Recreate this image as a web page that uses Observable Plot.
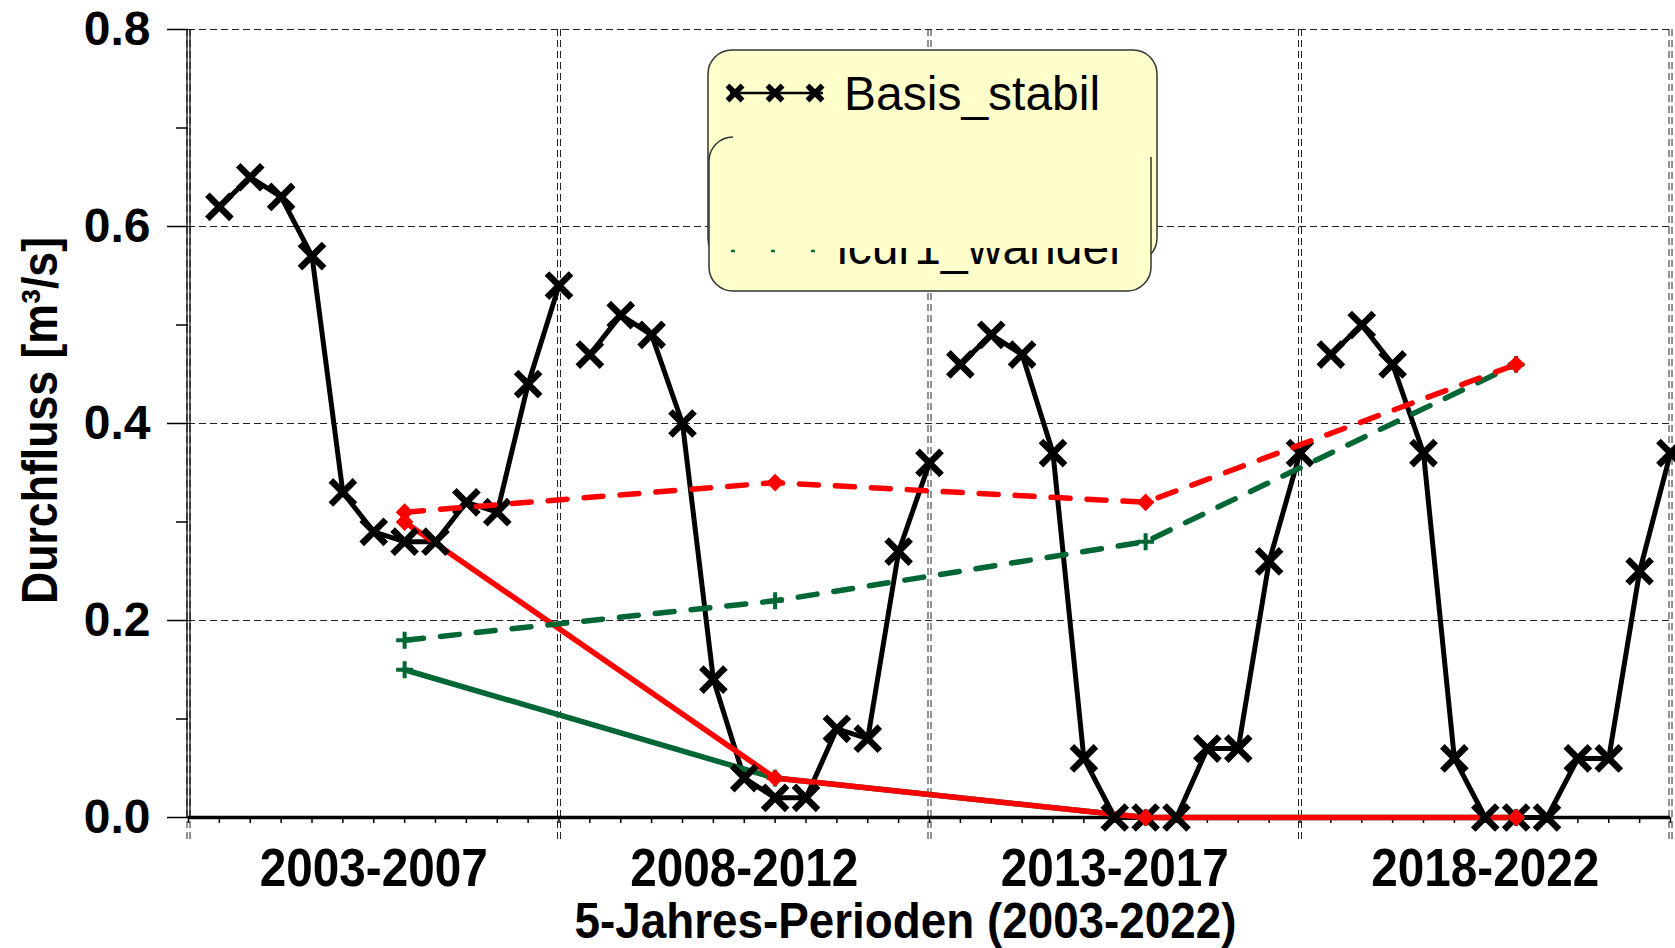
<!DOCTYPE html>
<html><head><meta charset="utf-8">
<script src="https://cdn.jsdelivr.net/npm/d3@7"></script>
<script src="https://cdn.jsdelivr.net/npm/@observablehq/plot@0.6"></script>
<style>
html,body{margin:0;padding:0;background:#fff;overflow:hidden}
#wrap{position:relative;width:1675px;height:948px}
#legend{position:absolute;left:0;top:0}
</style></head><body>
<div id="wrap"><div id="chart"></div><svg id="legend" width="1675" height="948"></svg></div>
<script>
// ---------- data ----------
const periods = ["2003-2007", "2008-2012", "2013-2017", "2018-2022"];
const monthsPerPeriod = 12;
// Basis_stabil: monthly mean discharge within each 5-year period
const basisP1 = [0.62, 0.65, 0.63, 0.57, 0.33, 0.29, 0.28, 0.28, 0.32, 0.31, 0.44, 0.54];
const basisP2 = [0.47, 0.51, 0.49, 0.40, 0.14, 0.04, 0.02, 0.02, 0.09, 0.08, 0.27, 0.36];
const basisP3 = [0.46, 0.49, 0.47, 0.37, 0.06, 0.00, 0.00, 0.00, 0.07, 0.07, 0.26, 0.37];
const basisP4 = [0.47, 0.50, 0.46, 0.37, 0.06, 0.00, 0.00, 0.00, 0.06, 0.06, 0.25, 0.37];
// scenario series, one value per period (plotted at month 7 of each period)
const scenarioMonth = 7;
const redDashed   = [0.31, 0.34, 0.32, 0.46];
const redSolid    = [0.30, 0.04, 0.00, 0.00];
const greenDashed = [0.18, 0.22, 0.28, 0.46];
const greenSolid  = [0.15, 0.04, 0.00, 0.00];
const yTicks = [0.0, 0.2, 0.4, 0.6, 0.8];
const yMinorTicks = [0.1, 0.3, 0.5, 0.7];
const yTitle = "Durchfluss [m³/s]";
const xTitle = "5-Jahres-Perioden (2003-2022)";
const legendLabels = ["Basis_stabil", "lcur1_wandel"];

// ---------- build tables ----------
const basis = [basisP1, basisP2, basisP3, basisP4].flatMap((vals, p) =>
  vals.map((v, m) => ({x: p * monthsPerPeriod + m + 1, y: v, period: p})));
const scen = vals => vals.map((v, i) => ({x: i * monthsPerPeriod + scenarioMonth, y: v}));
const periodTicks = periods.map((_, i) => i * monthsPerPeriod + monthsPerPeriod / 2);
const boundaries = d3.range(0, periods.length * monthsPerPeriod + 1, monthsPerPeriod);
const minorX = d3.range(0, periods.length * monthsPerPeriod + 1);

const RED = "#ff0000", GREEN = "#006633";
const gridStyle = {stroke: "#222", strokeWidth: 1.2, strokeDasharray: "7,4"};

const chart = Plot.plot({
  width: 1675, height: 948,
  marginLeft: 188, marginRight: 5, marginTop: 29, marginBottom: 131,
  x: {domain: [0, periods.length * monthsPerPeriod]},
  y: {domain: [0, 0.8]},
  style: {fontFamily: "'Liberation Sans', Arial, sans-serif", background: "#fff", color: "#000"},
  marks: [
    Plot.ruleY(yTicks.filter(d => d > 0), gridStyle),
    Plot.ruleX(boundaries, {...gridStyle, strokeWidth: 1, dx: -1.5, insetBottom: -26}),
    Plot.ruleX(boundaries, {...gridStyle, strokeWidth: 1, dx: 1.5, insetBottom: -26}),
    Plot.axisY(yTicks, {tickSize: 21, tickPadding: 17, tickFormat: d3.format(".1f"),
      fontSize: 48, fontWeight: "bold", label: null, strokeWidth: 1.5}),
    Plot.axisY(yMinorTicks, {tickSize: 12, tickFormat: () => "", label: null, strokeWidth: 1.5}),
    Plot.axisX(minorX, {tickSize: 6, tickFormat: () => "", label: null, strokeWidth: 1.5}),
    Plot.ruleX([0], {stroke: "#000", strokeWidth: 1.2, dx: -1.5}),
    Plot.ruleX([0], {stroke: "#000", strokeWidth: 1.2, dx: 1.5}),
    Plot.ruleY([0], {stroke: "#000", strokeWidth: 3.5}),
    Plot.text(periods, {x: (d, i) => periodTicks[i], frameAnchor: "bottom", dy: 68, lineAnchor: "bottom",
      fontSize: 54, fontWeight: "bold"}),
    Plot.text([xTitle], {frameAnchor: "bottom", dx: -24, dy: 120, lineAnchor: "bottom",
      fontSize: 50, fontWeight: "bold"}),
    Plot.text([yTitle], {frameAnchor: "left", textAnchor: "middle", rotate: -90, dx: -132, dy: -3, lineAnchor: "bottom",
      fontSize: 50, fontWeight: "bold"}),
    // series
    Plot.line(basis, {x: "x", y: "y", z: "period", stroke: "#000", strokeWidth: 5, strokeLinejoin: "round"}),
    Plot.line(scen(greenSolid), {x: "x", y: "y", stroke: GREEN, strokeWidth: 5.5}),
    Plot.line(scen(redSolid), {x: "x", y: "y", stroke: RED, strokeWidth: 5.5}),
    Plot.dot(basis, {x: "x", y: "y", symbol: "times", r: 11, stroke: "#000", strokeWidth: 6.5}),
    Plot.line(scen(greenDashed), {x: "x", y: "y", stroke: GREEN, strokeWidth: 5.5, strokeDasharray: "19,17", strokeLinecap: "round"}),
    Plot.line(scen(redDashed), {x: "x", y: "y", stroke: RED, strokeWidth: 5.5, strokeDasharray: "19,17", strokeLinecap: "round"}),
    Plot.dot(scen(greenSolid), {x: "x", y: "y", symbol: "plus", r: 5.5, stroke: GREEN, strokeWidth: 4}),
    Plot.dot(scen(greenDashed), {x: "x", y: "y", symbol: "plus", r: 5.5, stroke: GREEN, strokeWidth: 4}),
    Plot.dot(scen(redSolid), {x: "x", y: "y", symbol: "diamond2", r: 8, fill: RED}),
    Plot.dot(scen(redDashed), {x: "x", y: "y", symbol: "diamond2", r: 8, fill: RED})
  ]
});
document.getElementById("chart").appendChild(chart);

// condensed bold labels as in the original
d3.select(chart).selectAll("text").each(function() {
  const t = this.textContent;
  if (periods.includes(t)) { this.setAttribute("textLength", 228); this.setAttribute("lengthAdjust", "spacingAndGlyphs"); }
  if (t === xTitle) { this.setAttribute("textLength", 662); this.setAttribute("lengthAdjust", "spacingAndGlyphs"); }
  if (t === yTitle) { this.setAttribute("textLength", 367); this.setAttribute("lengthAdjust", "spacingAndGlyphs"); }
});

// ---------- legend (overlapping boxes as in the original) ----------
const lg = d3.select("#legend");
const font = "'Liberation Sans', Arial, sans-serif";
lg.append("rect").attr("x", 708).attr("y", 50).attr("width", 449).attr("height", 212).attr("rx", 24)
  .attr("fill", "#ffffcc").attr("stroke", "#333").attr("stroke-width", 1.5);
lg.append("line").attr("x1", 730).attr("x2", 823).attr("y1", 93).attr("y2", 93).attr("stroke", "#000").attr("stroke-width", 2.5);
const cross = d3.symbol(d3.symbolTimes, 150)();
[735, 775, 815].forEach(cx => lg.append("path").attr("d", cross).attr("transform", `translate(${cx},93)`)
  .attr("fill", "none").attr("stroke", "#000").attr("stroke-width", 5.5));
lg.append("text").attr("x", 844).attr("y", 110).attr("font-family", font).attr("font-size", 48).text(legendLabels[0]);
// second box
lg.append("rect").attr("x", 709).attr("y", 137).attr("width", 442).attr("height", 154).attr("rx", 24).attr("fill", "#ffffcc");
lg.append("path").attr("d", "M733,137 A24,24 0 0 0 709,161 L709,267 A24,24 0 0 0 733,291 L1127,291 A24,24 0 0 0 1151,267 L1151,157")
  .attr("fill", "none").attr("stroke", "#333").attr("stroke-width", 1.5);
const defs = lg.append("defs");
defs.append("clipPath").attr("id", "lgclip").append("rect").attr("x", 700).attr("y", 248).attr("width", 460).attr("height", 60);
const g2 = lg.append("g").attr("clip-path", "url(#lgclip)");
g2.append("line").attr("x1", 731).attr("x2", 815).attr("y1", 251).attr("y2", 251).attr("stroke", GREEN)
  .attr("stroke-width", 2.5).attr("stroke-dasharray", "4,36");
g2.append("text").attr("x", 837).attr("y", 264).attr("font-family", font).attr("font-size", 48).text(legendLabels[1]);
</script>
</body></html>
